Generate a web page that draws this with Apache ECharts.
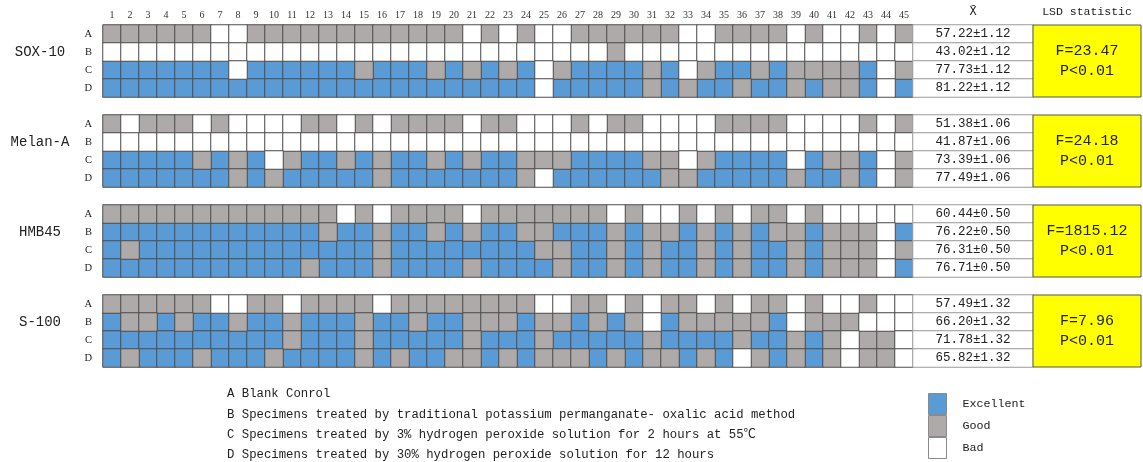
<!DOCTYPE html>
<html>
<head>
<meta charset="utf-8">
<title>Staining quality by method</title>
<script src="https://cdn.jsdelivr.net/npm/echarts@6/dist/echarts.min.js"></script>
<style>
  html, body { margin: 0; padding: 0; background: #fff; }
  #chart { width: 1143px; height: 462px; }
</style>
</head>
<body>
<div id="chart"></div>
<script>
// E = Excellent, G = Good, B = Bad ; one string per method (A-D), 45 specimens, grouped by 5
const sox10Rows = [
  'GGGGG GBBGG GGGGG GGGGG BGBGB BGGGG GGBBG GGGBG BBGBG',
  'BBBBB BBBBB BBBBB BBBBB BBBBB BBBGB BBBBB BBBBB BBBBB',
  'EEEEE EEBEE EEEEG EEEGE GEGEB GEEEE GEBGE EGEGG GGEBG',
  'EEEEE EEEEE EEEEE EEEEE EEEEB EEEEE GEGEE GEEGE GGEBE'
]
const melanARows = [
  'GBGGG BGBBB BGGBG BGGGG BGGBB BGBGG BBBBG GGGBB BBGBG',
  'BBBBB BBBBB BBBBB BBBBB BBBBB BBBBB BBBBB BBBBB BBBBB',
  'EEEEE GEGEB GEEGE GEEGE GEEGG GEEEE GGBGE EEEBE GGEBG',
  'EEEEE EEGEG EEEEE GEEEE EEEGB EEEEE EGGEE EEEGE EGEBG'
]
const hmb45Rows = [
  'GGGGG GGGGG GGGBG BGGGG BGGGG GGGBG BBGBG BGGBG BBBBB',
  'EEEEE EEEEE EEGEE GEEGE GEEGG EEEGE GGEGE GEGGE GGGBE',
  'EGEEE EEEEE EEEEE GEEEE EEEEG GEEGE GEEGE GEEGE GGGBG',
  'EEEEE EEEEE EGEEE GEEEE GEEEE GEEGE GEEGE GEEGE GGGBE'
]
const s100Rows = [
  'GGGGG GBBGG BGGGG BGGGG GGGGB BGGBG BGGBG BGGBG BBGBB',
  'EGGEG EEGEE GEEEG EEGEE GGGEG GEGEG BEGGG GGEBG GGBBB',
  'EEEEE EEEEE GEEEG EEEEE GEEEG EEEEE GEEEE GEEGE GBGGB',
  'EGEEE GEEEG EEEEG EGEEG GEGEG GGEGE GGEGE BGEGE GBGGB'
]

const markers = ['SOX-10', 'Melan-A', 'HMB45', 'S-100']
const methods = ['A', 'B', 'C', 'D']
const sox10Mean = [57.22, 43.02, 77.73, 81.22]
const melanAMean = [51.38, 41.87, 73.39, 77.49]
const hmb45Mean = [60.44, 76.22, 76.31, 76.71]
const s100Mean = [57.49, 66.20, 71.78, 65.82]
const sdValues = [1.12, 1.06, 0.50, 1.32]
const fValues = [23.47, 24.18, 1815.12, 7.96]
const pText = 'P<0.01'
const grades = ['Excellent', 'Good', 'Bad']
const methodNotes = [
  'A Blank Conrol',
  'B Specimens treated by traditional potassium permanganate- oxalic acid method',
  'C Specimens treated by 3% hydrogen peroxide solution for 2 hours at 55℃',
  'D Specimens treated by 30% hydrogen peroxide solution for 12 hours'
]

const MONO = "'Liberation Mono', 'DejaVu Sans Mono', 'Noto Sans CJK SC', monospace"
const SERIF = "'Liberation Serif', 'DejaVu Serif', serif"
const colors = { E: '#5b9bd5', G: '#aeaaaa', B: '#ffffff' }

const blocks = [sox10Rows, melanARows, hmb45Rows, s100Rows]
const means = [sox10Mean, melanAMean, hmb45Mean, s100Mean]

// 4 rows per marker + one empty spacer row between markers
const rowCats = []
const nameCats = []
blocks.forEach((rows, b) => {
  if (b > 0) { rowCats.push(''); nameCats.push('') }
  methods.forEach((m, r) => {
    rowCats.push(m)
    nameCats.push(r === 1 ? markers[b] : '')
  })
})
const colNums = []
for (let i = 1; i <= 45; i++) colNums.push(String(i))

const cells = { E: [], G: [], B: [] }
const meanCells = []
const lsdCells = []
blocks.forEach((rows, b) => {
  rows.forEach((str, r) => {
    const y = b * 5 + r
    str.replace(/ /g, '').split('').forEach((ch, c) => {
      cells[ch].push([c, y, 1])
    })
    meanCells.push([0, y, means[b][r], b])
  })
  lsdCells.push([0, b * 5, fValues[b]])
})

const gradeSeries = ['E', 'G', 'B'].map((k, i) => ({
  name: grades[i],
  type: 'heatmap',
  xAxisIndex: 0,
  yAxisIndex: 0,
  data: cells[k],
  itemStyle: { color: colors[k], borderColor: '#4d4d4d', borderWidth: 1 },
  emphasis: { disabled: true }
}))

const hidden = { show: false }
const chart = echarts.init(document.getElementById('chart'))
chart.setOption({
  animation: false,
  title: {
    text: methodNotes.join('\n'),
    left: 227,
    top: 384,
    padding: 0,
    textStyle: { fontFamily: MONO, fontSize: 12.3, fontWeight: 'normal', color: '#222', lineHeight: 20.3 }
  },
  legend: {
    data: grades,
    orient: 'vertical',
    left: 928,
    top: 393,
    padding: 0,
    itemWidth: 18,
    itemHeight: 21,
    itemGap: 0,
    icon: 'rect',
    selectedMode: false,
    itemStyle: { borderColor: '#8a8a8a', borderWidth: 1 },
    textStyle: { fontFamily: MONO, fontSize: 11.7, color: '#222', padding: [4, 0, 0, 11] }
  },
  grid: [
    { left: 103, top: 25, width: 810, height: 342 },   // grades
    { left: 913, top: 25, width: 120, height: 342 },   // mean ± sd
    { left: 1033, top: 25, width: 108, height: 342 },  // LSD statistic
    { left: 103, top: 25, width: 810, height: 342 }    // marker names
  ],
  xAxis: [
    {
      gridIndex: 0, type: 'category', position: 'top', data: colNums,
      axisLine: hidden, axisTick: hidden, splitLine: hidden,
      axisLabel: { interval: 0, margin: 5, fontFamily: SERIF, fontSize: 10, color: '#333' }
    },
    {
      gridIndex: 1, type: 'category', position: 'top', data: ['X\u0304'],
      axisLine: hidden, axisTick: hidden, splitLine: hidden,
      axisLabel: { margin: 7, fontFamily: MONO, fontSize: 12, color: '#222' }
    },
    {
      gridIndex: 2, type: 'category', position: 'top', data: ['LSD statistic'],
      axisLine: hidden, axisTick: hidden, splitLine: hidden,
      axisLabel: { margin: 7, fontFamily: MONO, fontSize: 11.5, color: '#222' }
    },
    { gridIndex: 3, type: 'category', data: [''], show: false }
  ],
  yAxis: [
    {
      gridIndex: 0, type: 'category', inverse: true, data: rowCats,
      axisLine: hidden, axisTick: hidden, splitLine: hidden,
      axisLabel: { interval: 0, margin: 11, fontFamily: SERIF, fontSize: 10.5, color: '#222' }
    },
    { gridIndex: 1, type: 'category', inverse: true, data: rowCats, show: false },
    { gridIndex: 2, type: 'category', inverse: true, data: rowCats, show: false },
    {
      gridIndex: 3, type: 'category', inverse: true, data: nameCats,
      axisLine: hidden, axisTick: hidden, splitLine: hidden,
      axisLabel: { interval: 0, margin: 63, align: 'center', fontFamily: MONO, fontSize: 14, color: '#222' }
    }
  ],
  series: [
    ...gradeSeries,
    {
      type: 'heatmap',
      xAxisIndex: 1,
      yAxisIndex: 1,
      data: meanCells,
      itemStyle: { color: '#fff', borderColor: '#9a9a9a', borderWidth: 1 },
      label: {
        show: true,
        fontFamily: MONO,
        fontSize: 12.5,
        color: '#222',
        formatter: p => p.data[2].toFixed(2) + '±' + sdValues[p.data[3]].toFixed(2)
      },
      emphasis: { disabled: true }
    },
    {
      type: 'custom',
      xAxisIndex: 2,
      yAxisIndex: 2,
      data: lsdCells,
      encode: { x: 0, y: 1 },
      renderItem(params, api) {
        const c = api.coord([0, api.value(1)])
        const size = api.size([1, 1])
        const x = c[0] - size[0] / 2
        const y = c[1] - size[1] / 2
        return {
          type: 'group',
          children: [
            {
              type: 'rect',
              shape: { x, y, width: size[0], height: size[1] * 4 },
              style: { fill: '#ffff00', stroke: '#555', lineWidth: 1 }
            },
            {
              type: 'text',
              style: {
                x: c[0],
                y: y + size[1] * 2,
                text: 'F=' + api.value(2).toFixed(2) + '\n' + pText,
                align: 'center',
                verticalAlign: 'middle',
                fontFamily: MONO,
                fontSize: 15,
                lineHeight: 20,
                fill: '#222'
              }
            }
          ]
        }
      }
    }
  ]
})
</script>
</body>
</html>
